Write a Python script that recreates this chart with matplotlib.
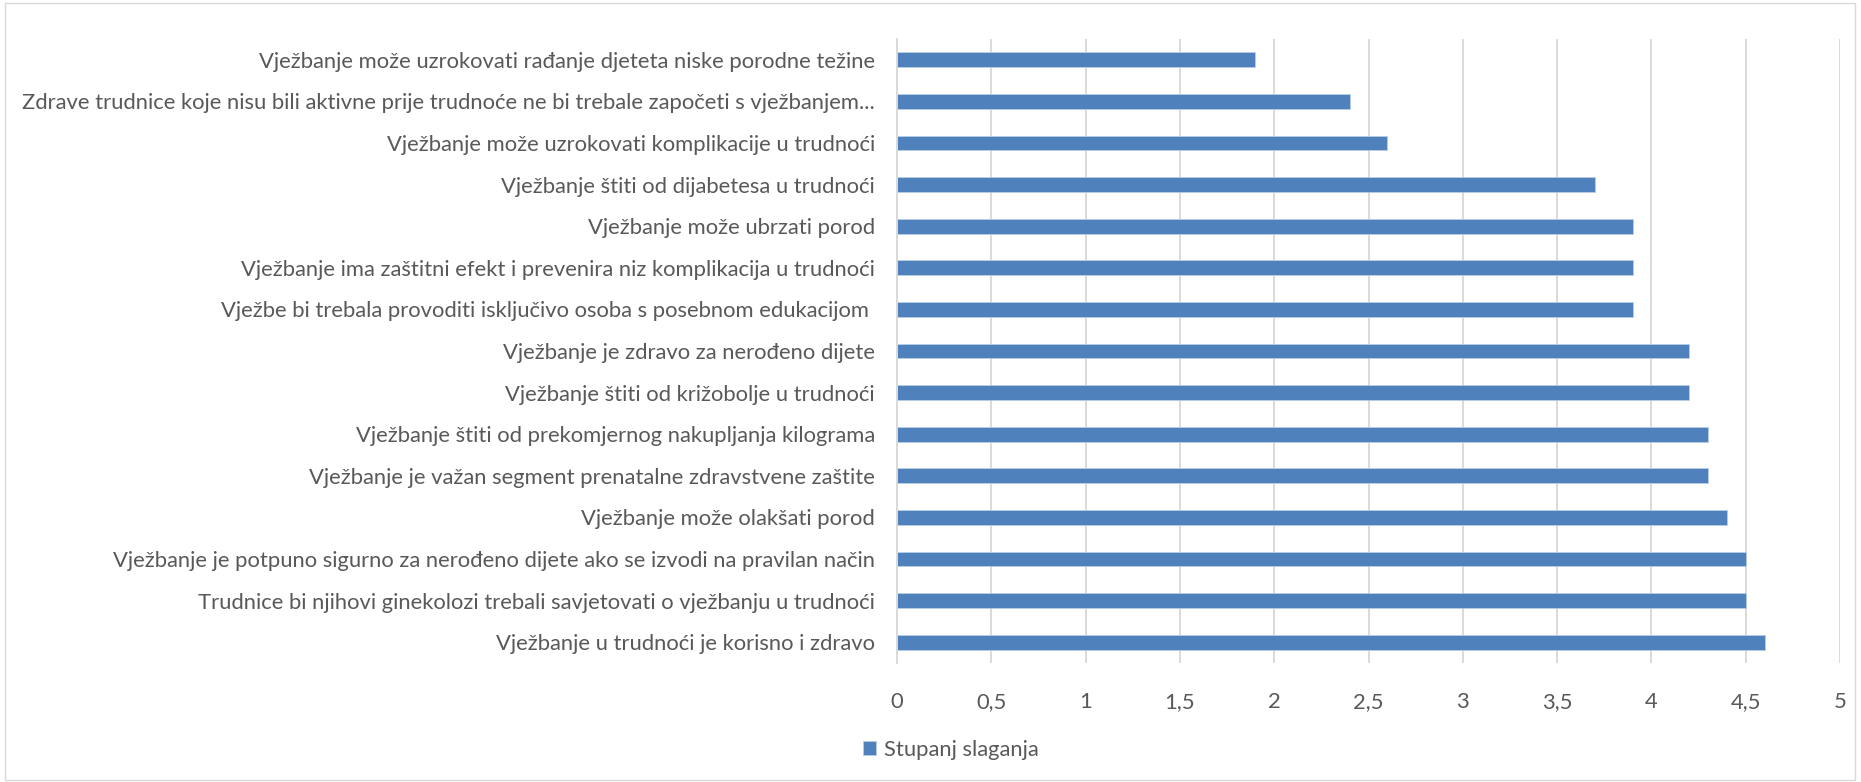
import matplotlib
matplotlib.use("Agg")
import matplotlib.pyplot as plt
from matplotlib.patches import Rectangle

categories = [
    "Vježbanje može uzrokovati rađanje djeteta niske porodne težine",
    "Zdrave trudnice koje nisu bili aktivne prije trudnoće ne bi trebale započeti s vježbanjem...",
    "Vježbanje može uzrokovati komplikacije u trudnoći",
    "Vježbanje štiti od dijabetesa u trudnoći",
    "Vježbanje može ubrzati porod",
    "Vježbanje ima zaštitni efekt i prevenira niz komplikacija u trudnoći",
    "Vježbe bi trebala provoditi isključivo osoba s posebnom edukacijom ",
    "Vježbanje je zdravo za nerođeno dijete",
    "Vježbanje štiti od križobolje u trudnoći",
    "Vježbanje štiti od prekomjernog nakupljanja kilograma",
    "Vježbanje je važan segment prenatalne zdravstvene zaštite",
    "Vježbanje može olakšati porod",
    "Vježbanje je potpuno sigurno za nerođeno dijete ako se izvodi na pravilan način",
    "Trudnice bi njihovi ginekolozi trebali savjetovati o vježbanju u trudnoći",
    "Vježbanje u trudnoći je korisno i zdravo",
]
values = [1.9, 2.4, 2.6, 3.7, 3.9, 3.9, 3.9, 4.2, 4.2, 4.3, 4.3, 4.4, 4.5, 4.5, 4.6]
xticks = [0, 0.5, 1, 1.5, 2, 2.5, 3, 3.5, 4, 4.5, 5]
xticklabels = ["0", "0,5", "1", "1,5", "2", "2,5", "3", "3,5", "4", "4,5", "5"]
series_name = "Stupanj slaganja"

plt.rcParams['font.family'] = ['Lato', 'DejaVu Sans']
W, H = 1861, 782
fig = plt.figure(figsize=(W / 100, H / 100), dpi=100)
ax = fig.add_axes([897 / W, 1 - 663 / H, (1840 - 897) / W, (663 - 39) / H])

text_color = "#595959"
grid_color = "#d9d9d9"
fs = 15.8

ypos = list(range(len(categories)))
ax.barh(ypos, values, height=0.36, color="#4f81bd", edgecolor="#b9cde5",
        linewidth=0.6, label=series_name, zorder=3)
ax.set_ylim(len(categories) - 0.5, -0.5)
ax.set_yticks(ypos)
ax.set_yticklabels(categories, fontsize=fs, color=text_color)
ax.set_xlim(0, 5)
ax.set_xticks(xticks)
ax.set_xticklabels(xticklabels, fontsize=fs, color=text_color)
ax.tick_params(axis='y', length=0, pad=16)
ax.tick_params(axis='x', length=0, pad=21)
ax.grid(axis='x', color=grid_color, linewidth=1.4, zorder=0)
for s in ["top", "right", "bottom"]:
    ax.spines[s].set_visible(False)
ax.spines["left"].set_color(grid_color)
ax.spines["left"].set_linewidth(1.4)
ax.spines["left"].set_zorder(4)

leg = fig.legend(loc="center", bbox_to_anchor=(951 / W, 1 - 750 / H), frameon=False,
                 fontsize=fs, handlelength=0.6, handleheight=0.6, handletextpad=0.35)
for t in leg.get_texts():
    t.set_color(text_color)

fig.patches.append(Rectangle((5 / W, 2 / H), (1855 - 5) / W, (779 - 2) / H,
                             transform=fig.transFigure, fill=False,
                             edgecolor=grid_color, linewidth=1.0))

fig.savefig("out.png", dpi=100)
